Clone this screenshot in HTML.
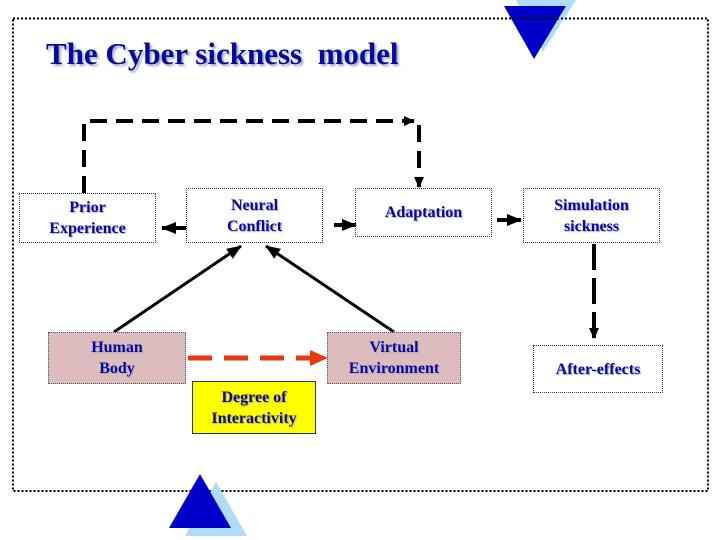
<!DOCTYPE html>
<html><head><meta charset="utf-8"><style>
body{margin:0;background:#fff;}
.w{position:relative;width:720px;height:540px;overflow:hidden;background:#fff;font-family:"Liberation Serif",serif;}
.b{position:absolute;border:1px dotted #333;box-sizing:border-box;display:flex;align-items:center;justify-content:center;text-align:center;color:#0a0a9a;font-weight:bold;font-size:16px;line-height:21px;text-shadow:1px 1px 1px #aab;}
.p{background:#dcbcbc;border:1px dotted #555;}
.y{background:#ffff00;border:1px solid #333;color:#101060;}
.t{position:absolute;left:46px;top:36px;font-size:31px;font-weight:bold;color:#0a0a9a;text-shadow:2px 2px 2px #9ab;}
</style></head><body><div class="w">
<svg width="720" height="540" style="position:absolute;left:0;top:0">
<defs>
<marker id="a" markerUnits="userSpaceOnUse" markerWidth="16" markerHeight="16" refX="14" refY="8" orient="auto"><path d="M0,2L15,8L0,14z" fill="#000"/></marker>
<marker id="s" markerUnits="userSpaceOnUse" markerWidth="12" markerHeight="12" refX="10" refY="6" orient="auto"><path d="M0,1L11,6L0,11z" fill="#000"/></marker>
<marker id="r" markerUnits="userSpaceOnUse" markerWidth="18" markerHeight="18" refX="17" refY="9" orient="auto"><path d="M0,1L18,9L0,17z" fill="#e83a10"/></marker>
</defs>
<polygon points="516,0 576,0 543,52" fill="#b0dcf8"/>
<polygon points="504,6 566,6 534,59" fill="#0000c8"/>
<rect x="13" y="18.5" width="695" height="472.5" fill="none" stroke="#000" stroke-width="2" stroke-dasharray="2,2"/>
<polygon points="216,482 185,536 247,536" fill="#b0dcf8"/>
<polygon points="200,474 169,528 231,528" fill="#0000c8"/>
<polyline points="84,193 84,121 414,121" fill="none" stroke="#000" stroke-width="4" stroke-dasharray="17,9" marker-end="url(#s)"/>
<line x1="419" y1="125" x2="419" y2="187" stroke="#000" stroke-width="4" stroke-dasharray="17,9" marker-end="url(#s)"/>
<line x1="186" y1="228" x2="162" y2="228" stroke="#000" stroke-width="4" marker-end="url(#a)"/>
<line x1="334" y1="225" x2="356" y2="225" stroke="#000" stroke-width="4" marker-end="url(#a)"/>
<line x1="497" y1="220" x2="521" y2="220" stroke="#000" stroke-width="4" marker-end="url(#a)"/>
<line x1="594" y1="244" x2="594" y2="338" stroke="#000" stroke-width="4" stroke-dasharray="26,8" marker-end="url(#s)"/>
<line x1="114" y1="332" x2="241" y2="246" stroke="#000" stroke-width="3" marker-end="url(#a)"/>
<line x1="394" y1="332" x2="266" y2="246" stroke="#000" stroke-width="3" marker-end="url(#a)"/>
<line x1="188" y1="358" x2="327" y2="358" stroke="#e83a10" stroke-width="5" stroke-dasharray="24,12" marker-end="url(#r)"/>
</svg>
<div class="t">The Cyber sickness&nbsp; model</div>
<div class="b" style="left:19px;top:193px;width:137px;height:50px;">Prior<br>Experience</div>
<div class="b" style="left:186px;top:188px;width:137px;height:55px;">Neural<br>Conflict</div>
<div class="b" style="left:355px;top:188px;width:137px;height:49px;">Adaptation</div>
<div class="b" style="left:523px;top:188px;width:137px;height:55px;">Simulation<br>sickness</div>
<div class="b p" style="left:48px;top:332px;width:138px;height:52px;">Human<br>Body</div>
<div class="b p" style="left:327px;top:332px;width:134px;height:52px;">Virtual<br>Environment</div>
<div class="b y" style="left:192px;top:381px;width:124px;height:53px;">Degree of<br>Interactivity</div>
<div class="b" style="left:533px;top:345px;width:130px;height:48px;">After-effects</div>
</div></body></html>
